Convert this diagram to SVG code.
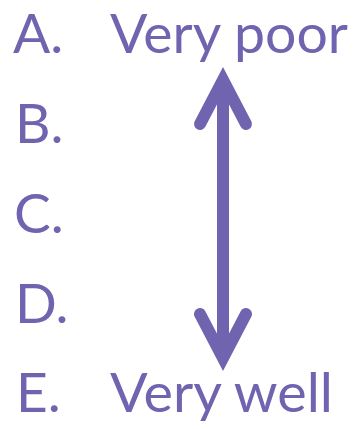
<svg xmlns="http://www.w3.org/2000/svg" width="364" height="429" viewBox="0 0 364 429">
<style>
text{font-family:Lato,"Open Sans","Liberation Sans",sans-serif;font-weight:400;font-size:55px;fill:#7064B0}
.ar{fill:none;stroke:#7064B0;stroke-width:12;stroke-linecap:round;stroke-linejoin:miter}
</style>
<rect width="364" height="429" fill="#fff"/>
<g id="labelA"><text x="13" y="53">A.</text><text x="110" y="53" textLength="238" lengthAdjust="spacingAndGlyphs">Very poor</text></g>
<g id="labelB"><text x="15" y="143">B.</text></g>
<g id="labelC"><text x="14" y="233">C.</text></g>
<g id="labelD"><text x="15" y="323">D.</text></g>
<g id="labelE"><text x="16" y="412">E.</text><text x="110" y="412" textLength="223" lengthAdjust="spacingAndGlyphs">Very well</text></g>
<g id="connectors">
<line class="ar" x1="223" y1="84" x2="223" y2="354" stroke-linecap="butt"/>
<polyline class="ar" points="200,124 223,80 246,124"/>
<polyline class="ar" points="200,314 223,358 246,314"/>
</g>
</svg>
